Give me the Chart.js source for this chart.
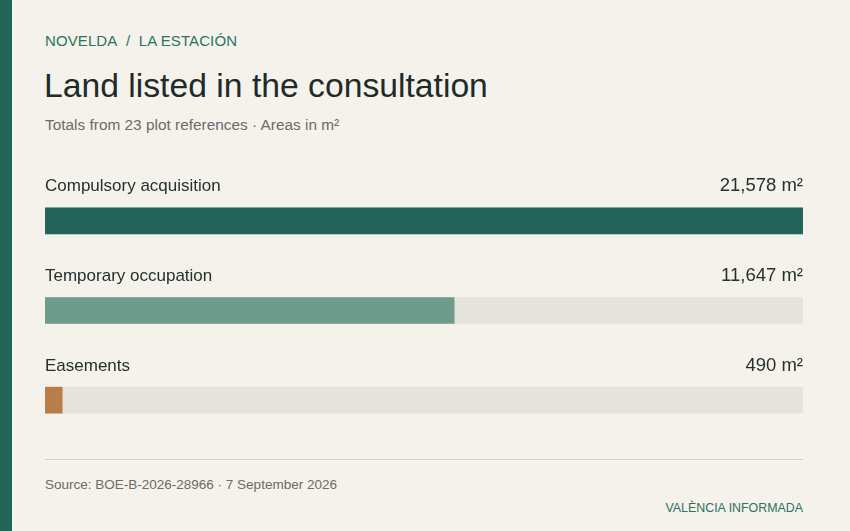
<!DOCTYPE html>
<html>
<head>
<meta charset="utf-8">
<script src="https://cdn.jsdelivr.net/npm/chart.js@4/dist/chart.umd.min.js"></script>
<style>
  html, body { margin: 0; padding: 0; }
  body {
    width: 850px; height: 531px; position: relative; overflow: hidden;
    background: #f4f2eb; font-family: "Liberation Sans", Arial, sans-serif;
  }
  .stripe { position: absolute; left: 0; top: 0; width: 12px; height: 531px; background: #236659; }
  .eyebrow { position: absolute; left: 45px; top: 32px; font-size: 15px; color: #2c7262; letter-spacing: 0.1px; }
  .title { position: absolute; left: 44px; top: 66px; font-size: 33.7px; color: #1e2b2a; }
  .subtitle { position: absolute; left: 45px; top: 116px; font-size: 15.4px; color: #6a6c68; }
  .chart { position: absolute; left: 45px; top: 166px; width: 758px; height: 289px; }
  .rule { position: absolute; left: 45px; top: 459px; width: 758px; height: 0; border-top: 1.5px solid #d2d2c9; }
  .source { position: absolute; left: 45px; top: 477px; font-size: 13.5px; color: #6a6c68; }
  .brand { position: absolute; right: 47px; top: 501px; font-size: 12.4px; color: #2c7262; }
</style>
</head>
<body>
<div class="stripe"></div>
<div class="eyebrow">NOVELDA&nbsp; /&nbsp; LA ESTACIÓN</div>
<div class="title">Land listed in the consultation</div>
<div class="subtitle">Totals from 23 plot references · Areas in m²</div>
<div class="chart"><canvas id="landChart"></canvas></div>
<div class="rule"></div>
<div class="source">Source: BOE-B-2026-28966 · 7 September 2026</div>
<div class="brand">VALÈNCIA INFORMADA</div>

<script>
// Land categories and areas (m²)
const categories = ['Compulsory acquisition', 'Temporary occupation', 'Easements'];
const areas = [21578, 11647, 490];
const barColors = ['#236659', '#6f9b8d', '#b87d49'];
const maxArea = 21578;
const trackValues = categories.map(() => maxArea);

function formatArea(value) {
    return value.toLocaleString('en-US') + ' m²';
}

// Draws the category name and value above each bar
const rowLabels = {
    id: 'rowLabels',
    afterDatasetsDraw(chart) {
        const { ctx, chartArea } = chart;
        const meta = chart.getDatasetMeta(1);
        ctx.save();
        ctx.fillStyle = '#26302f';
        ctx.textBaseline = 'alphabetic';
        meta.data.forEach((bar, i) => {
            const y = bar.y - 29.5;
            ctx.font = '17px "Liberation Sans", Arial, sans-serif';
            ctx.textAlign = 'left';
            ctx.fillText(categories[i], chartArea.left, y);
            ctx.font = '18.5px "Liberation Sans", Arial, sans-serif';
            ctx.textAlign = 'right';
            ctx.fillText(formatArea(areas[i]), chartArea.right, y);
        });
        ctx.restore();
    }
};

new Chart(document.getElementById('landChart'), {
    type: 'bar',
    data: {
        labels: categories,
        datasets: [{
            label: 'Track',
            data: trackValues,
            backgroundColor: '#e5e4dc',
            barThickness: 26,
            grouped: false,
            order: 2
        }, {
            label: 'Area',
            data: areas,
            backgroundColor: barColors,
            barThickness: 26,
            grouped: false,
            order: 1
        }]
    },
    options: {
        indexAxis: 'y',
        responsive: true,
        maintainAspectRatio: false,
        animation: false,
        layout: { padding: { top: 10, bottom: 10, left: 0, right: 0 } },
        scales: {
            x: { display: false, min: 0, max: maxArea },
            y: { display: false }
        },
        plugins: {
            legend: { display: false },
            tooltip: { enabled: false }
        }
    },
    plugins: [rowLabels]
});
</script>
</body>
</html>
